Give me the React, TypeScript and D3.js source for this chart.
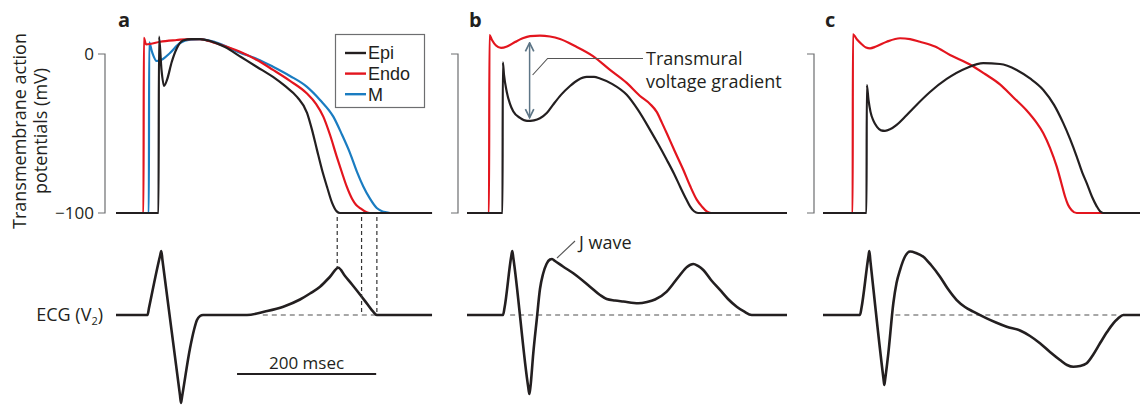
import React from 'react';
import * as d3 from 'd3';

type Pt = [number, number];

// ---- Panel a: action potentials (time ms, voltage mV) ----
const epiA: Pt[] = [
  [0, -100], [61.1, -100], [61.8, 10.9], [65.4, -10.0], [69.0, -20.1], [73.3, -16.3],
  [80.1, -5.0], [87.3, 3.5], [96.3, 8.5], [108.8, 9.4], [120.8, 9.4], [135.1, 8.2],
  [156.7, 4.4], [179.7, -1.9], [202.7, -8.2], [225.7, -14.4], [242.9, -20.1], [260.2, -27.0],
  [274.6, -37.0], [281.8, -47.7], [288.9, -60.3], [296.1, -72.8], [303.3, -83.5],
  [310.5, -93.5], [317.3, -99.0], [322, -100], [454.3, -100],
];
const endoA: Pt[] = [
  [0, -100], [39.5, -100], [40.0, 10.2], [43.1, 6.1], [48.9, 6.3], [63.3, 7.7],
  [87.3, 8.8], [106.4, 9.4], [120.8, 9.4], [142.3, 6.9], [178.3, 1.4], [202.7, -3.8],
  [225.7, -10.0], [250.1, -16.9], [274.1, -24.7], [287.5, -31.4], [298.0, -39.4],
  [307.6, -50.8], [317.3, -64.5], [324.9, -74.7], [331.6, -83.3], [339.3, -91.0],
  [345.0, -94.8], [350.8, -96.9], [360.4, -99.6], [365.1, -100], [454.3, -100],
];
const midA: Pt[] = [
  [0, -100], [47.2, -100], [47.7, 7.3], [51.8, 1.3], [58.5, -4.4], [67.6, -3.1],
  [77.6, 0.6], [92.0, 6.9], [106.4, 9.1], [120.8, 9.4], [142.3, 7.5], [178.3, 0.8],
  [202.7, -3.1], [225.7, -8.0], [250.1, -13.8], [274.1, -20.5], [293.3, -28.9],
  [312.4, -39.4], [324.9, -50.8], [336.4, -62.3], [346.4, -74.1], [355.5, -83.3],
  [365.1, -91.0], [374.8, -96.9], [382.4, -98.9], [389.1, -99.6], [393.9, -100], [454.3, -100],
];
// ECG lead V2 (time ms, arbitrary units)
const ecgA: Pt[] = [
  [0, 0], [45.3, 0], [47.4, 0.109], [63.3, 0.922], [65.1, 1.0], [66.8, 0.855],
  [92.0, -1.256], [93.4, -1.375], [94.9, -1.281], [106.4, -0.52], [112.1, -0.234],
  [116.4, -0.078], [120.8, -0.016], [125.1, 0], [188.3, 0], [214.2, 0.055],
  [240.5, 0.13], [264.5, 0.242], [278.9, 0.336], [293.3, 0.442], [307.6, 0.598],
  [319.6, 0.739], [329.2, 0.609], [339.3, 0.477], [353.2, 0.286], [362.3, 0.156],
  [369.4, 0.055], [375.2, 0], [454.3, 0],
];

// ---- Panel b ----
const endoB: Pt[] = [
  [0, -100], [31.6, -100], [32.3, 11.9], [35.9, 8.8], [41.7, 5.3], [48.9, 3.8],
  [57.5, 4.7], [69.0, 7.5], [79.1, 9.7], [90.6, 11.3], [104.9, 11.6], [119.3, 11.0],
  [133.7, 9.4], [155.3, 5.0], [181.1, -1.3], [205.6, -10.0], [229.6, -18.2],
  [248.7, -26.4], [263.1, -31.4], [272.7, -36.4], [280.3, -43.3], [287.5, -50.2],
  [299.0, -61.5], [310.9, -72.8], [320.6, -82.9], [330.2, -91.6], [337.8, -96.0],
  [344.6, -99.0], [350.8, -100], [460, -100],
];
const epiB: Pt[] = [
  [0, -100], [51.0, -100], [51.5, -5.2], [53.2, -13.2], [57.1, -23.7], [61.8, -31.4],
  [66.6, -36.2], [76.2, -40.2], [86.3, -42.1], [96.3, -41.7], [104.9, -40.4],
  [115.0, -37.0], [123.6, -32.0], [135.1, -25.7], [148.1, -20.1], [159.6, -16.3],
  [172.1, -14.4], [182.6, -14.4], [191.2, -15.4], [208.4, -18.8], [229.6, -25.7],
  [245.8, -35.2], [263.1, -47.7], [274.6, -56.5], [287.1, -66.5], [297.6, -75.3],
  [306.2, -83.3], [314.8, -91.0], [320.6, -95.8], [326.4, -98.9], [332.1, -100], [460, -100],
];
const ecgB: Pt[] = [
  [0, 0], [51.8, 0], [53.9, 0.109], [63.7, 0.922], [65.1, 1.0], [66.6, 0.891],
  [88.1, -1.133], [89.6, -1.234], [91.0, -1.141], [95.3, -0.594], [100.2, -0.078],
  [104.9, 0.406], [109.3, 0.641], [114.3, 0.797], [119.3, 0.867], [122.2, 0.875],
  [126.5, 0.844], [138.0, 0.758], [152.8, 0.652], [176.8, 0.443], [191.2, 0.313],
  [200.8, 0.25], [212.8, 0.227], [224.7, 0.211], [246.2, 0.183], [258.8, 0.203],
  [270.3, 0.242], [287.1, 0.364], [296.1, 0.484], [306.2, 0.625], [316.2, 0.75],
  [325.3, 0.797], [332.1, 0.766], [339.7, 0.703], [350.8, 0.547], [363.7, 0.391],
  [375.2, 0.25], [387.7, 0.13], [398.2, 0.055], [409.3, 0], [460, 0],
];

// ---- Panel c ----
const endoC: Pt[] = [
  [0, -100], [42.6, -100], [43.0, 12.4], [48.9, 9.1], [56.1, 6.0], [61.8, 4.1],
  [67.6, 3.6], [76.2, 4.7], [91.6, 7.7], [110.7, 9.9], [125.1, 9.4], [139.4, 7.7],
  [161.0, 4.7], [182.6, -0.6], [211.3, -6.6], [232.9, -12.6], [254.4, -19.1],
  [273.1, -27.0], [292.8, -35.5], [306.2, -42.7], [316.7, -49.8], [326.3, -59.0],
  [335.9, -70.7], [342.1, -80.3], [347.9, -89.6], [352.2, -94.8], [357.5, -98.2],
  [364.7, -100], [460, -100],
];
const epiC: Pt[] = [
  [0, -100], [62.5, -100], [63.0, -19.5], [65.4, -28.9], [68.3, -36.4], [72.6, -42.1],
  [77.6, -45.8], [83.4, -48.0], [89.1, -48.3], [96.3, -47.4], [105.9, -44.6],
  [117.9, -39.5], [129.8, -34.1], [153.8, -23.9], [177.8, -15.7], [206.6, -8.8],
  [230.4, -5.8], [254.4, -6.3], [278.4, -10.0], [297.6, -15.4], [316.7, -22.6],
  [332.1, -32.0], [345.4, -43.5], [355.1, -53.4], [364.7, -64.5], [372.3, -74.1],
  [379.1, -81.2], [386.7, -89.8], [393.5, -95.8], [398.2, -98.9], [402.9, -100], [460, -100],
];
const ecgC: Pt[] = [
  [0, 0], [53.2, 0], [55.3, 0.109], [65.4, 0.922], [66.6, 1.0], [68.0, 0.859],
  [87.0, -1.0], [88.1, -1.094], [89.4, -1.0], [93.9, -0.599], [101.1, 0.183],
  [105.7, 0.5], [110.7, 0.703], [117.9, 0.914], [125.1, 0.992], [133.7, 0.969],
  [144.2, 0.911], [155.3, 0.781], [168.2, 0.599], [179.7, 0.406], [192.2, 0.234],
  [204.1, 0.125], [216.1, 0.052], [235.3, -0.052], [248.7, -0.117], [264.1, -0.183],
  [283.2, -0.242], [297.6, -0.328], [311.9, -0.442], [326.3, -0.578], [340.7, -0.703],
  [350.8, -0.781], [359.8, -0.808], [369.4, -0.797], [379.1, -0.755], [388.1, -0.625],
  [398.2, -0.442], [408.3, -0.266], [417.3, -0.13], [424.1, -0.055], [431.7, 0], [460, 0],
];

const panelLabels = ['a', 'b', 'c'];
const legendLabels = ['Epi', 'Endo', 'M'];
const apTicks = [0, -100];
const apTickLabels = ['0', '\u2212100'];
// end of repolarization for Epi, Endo, M and the ECG value each guide drops to
const repolGuides: Pt[] = [[318, 0.739], [353, 0], [375, 0]];
const isoelectricSpans: Pt[] = [[211, 375], [62, 394], [104, 427]];
const scaleBar: Pt = [174, 374];
const gradientArrow = { t: 90, top: 7, bottom: -40 };
const jWavePeak: Pt = [122.2, 0.875];

const C_EPI = '#231f20';
const C_ENDO = '#e3151e';
const C_M = '#1a7cc1';
const FONT = '"Open Sans", "Noto Sans", sans-serif';
const LEGEND_FONT = '"Liberation Sans", Arial, sans-serif';

const panelX0 = [116, 467, 823];
const yAP = d3.scaleLinear().domain([-100, 0]).range([213, 54]);
const yECG = d3.scaleLinear().domain([0, 1]).range([315, 251]);

export default function App() {
  const xs = panelX0.map((x0) => d3.scaleLinear().domain([0, 460]).range([x0, x0 + 320]));
  const apLine = (x: d3.ScaleLinear<number, number>) =>
    d3.line<Pt>().x((d) => x(d[0])).y((d) => yAP(d[1])).curve(d3.curveMonotoneX);
  const ecgLine = (x: d3.ScaleLinear<number, number>) =>
    d3.line<Pt>().x((d) => x(d[0])).y((d) => yECG(d[1])).curve(d3.curveMonotoneX);

  const panels = [
    { ap: [{ d: epiA, c: C_EPI }, { d: endoA, c: C_ENDO }, { d: midA, c: C_M }], ecg: ecgA },
    { ap: [{ d: endoB, c: C_ENDO }, { d: epiB, c: C_EPI }], ecg: ecgB },
    { ap: [{ d: endoC, c: C_ENDO }, { d: epiC, c: C_EPI }], ecg: ecgC },
  ];
  // draw order in panel a: blue and red beneath black
  const orderA = [2, 1, 0];

  const xa = xs[0];
  const xb = xs[1];
  const arrowX = xb(gradientArrow.t);
  const arrowTop = yAP(gradientArrow.top);
  const arrowBot = yAP(gradientArrow.bottom);
  const jx = xb(jWavePeak[0]) + 5;
  const jy = yECG(jWavePeak[1]) - 1;

  return (
    <svg width={1140} height={405} style={{ position: 'absolute', left: 0, top: 0, background: '#fff' }}
      fontFamily={FONT}>
      <defs>
        <marker id="arrowHead" viewBox="0 0 10 10" refX="9" refY="5" markerWidth="7" markerHeight="7"
          orient="auto-start-reverse">
          <path d="M1,1 L9,5 L1,9" fill="none" stroke="#5d7586" strokeWidth="1.6" />
        </marker>
      </defs>

      {/* y-axis title */}
      <text transform="translate(26,131) rotate(-90)" textAnchor="middle" fontSize={18} fill="#231f20">
        Transmembrane action
      </text>
      <text transform="translate(47,131) rotate(-90)" textAnchor="middle" fontSize={18} fill="#231f20">
        potentials (mV)
      </text>

      {/* tick labels */}
      {apTicks.map((v, i) => (
        <text key={v} x={94} y={yAP(v)} dy="0.36em" textAnchor="end" fontSize={17} fill="#231f20">
          {apTickLabels[i]}
        </text>
      ))}

      {/* ECG row label */}
      <text x={103} y={321} textAnchor="end" fontSize={18} fill="#231f20">
        ECG (V<tspan fontSize={11} dy={4}>2</tspan><tspan dy={-4}>)</tspan>
      </text>

      {panels.map((p, i) => {
        const x = xs[i];
        const x0 = panelX0[i];
        const bx = x0 - (i === 0 ? 11 : 9);
        const order = i === 0 ? orderA : p.ap.map((_, k) => k);
        const iso = isoelectricSpans[i];
        return (
          <g key={i}>
            <text x={x0 + 2} y={27} fontSize={20} fontWeight={700} fill="#231f20">
              {panelLabels[i]}
            </text>
            {/* voltage bracket */}
            <path
              d={`M${bx - 7},${yAP(0)} H${bx} V${yAP(-100)} H${bx - 7}`}
              fill="none" stroke="#6d6e70" strokeWidth={1.2}
            />
            {/* isoelectric reference */}
            <line x1={x(iso[0])} x2={x(iso[1])} y1={yECG(0)} y2={yECG(0)}
              stroke="#8a8a8a" strokeWidth={1.6} strokeDasharray="5,4" />
            {order.map((k) => (
              <path key={k} d={apLine(x)(p.ap[k].d) || ''} fill="none" stroke={p.ap[k].c}
                strokeWidth={2.2} strokeLinejoin="round" />
            ))}
            <path d={ecgLine(x)(p.ecg) || ''} fill="none" stroke={C_EPI} strokeWidth={2.6}
              strokeLinejoin="round" />
          </g>
        );
      })}

      {/* repolarization guides */}
      {repolGuides.map(([t, v], i) => (
        <line key={i} x1={xa(t)} x2={xa(t)} y1={yAP(-100) + 4} y2={yECG(v)}
          stroke="#333" strokeWidth={1.2} strokeDasharray="4,3" />
      ))}

      {/* legend */}
      <rect x={335.5} y={34.5} width={89} height={73} fill="#fff" stroke="#6d6e70" strokeWidth={1.2} />
      {legendLabels.map((name, i) => {
        const ly = 53 + i * 20.6;
        const col = [C_EPI, C_ENDO, C_M][i];
        return (
          <g key={name}>
            <line x1={345} x2={366} y1={ly} y2={ly} stroke={col} strokeWidth={2.4} />
            <text x={368} y={ly} dy="0.36em" fontSize={18} fontFamily={LEGEND_FONT} fill="#231f20">
              {name}
            </text>
          </g>
        );
      })}

      {/* scale bar */}
      <line x1={xa(scaleBar[0])} x2={xa(scaleBar[1])} y1={374} y2={374} stroke="#231f20" strokeWidth={2} />
      <text x={(xa(scaleBar[0]) + xa(scaleBar[1])) / 2} y={369} textAnchor="middle" fontSize={17}
        fill="#231f20">200 msec</text>

      {/* transmural voltage gradient */}
      <line x1={arrowX} x2={arrowX} y1={arrowTop} y2={arrowBot} stroke="#5d7586" strokeWidth={1.5}
        markerStart="url(#arrowHead)" markerEnd="url(#arrowHead)" />
      <path d={`M${arrowX + 3},${75} L${arrowX + 18},${58.5} H${643}`} fill="none" stroke="#555"
        strokeWidth={1.1} />
      <text x={646} y={65} fontSize={18} fill="#231f20">Transmural</text>
      <text x={646} y={88} fontSize={18} fill="#231f20">voltage gradient</text>

      {/* J wave */}
      <line x1={jx} y1={jy} x2={jx + 18} y2={jy - 17} stroke="#555" strokeWidth={1.1} />
      <text x={jx + 22} y={jy - 9} fontSize={18} fill="#231f20">J wave</text>
    </svg>
  );
}
